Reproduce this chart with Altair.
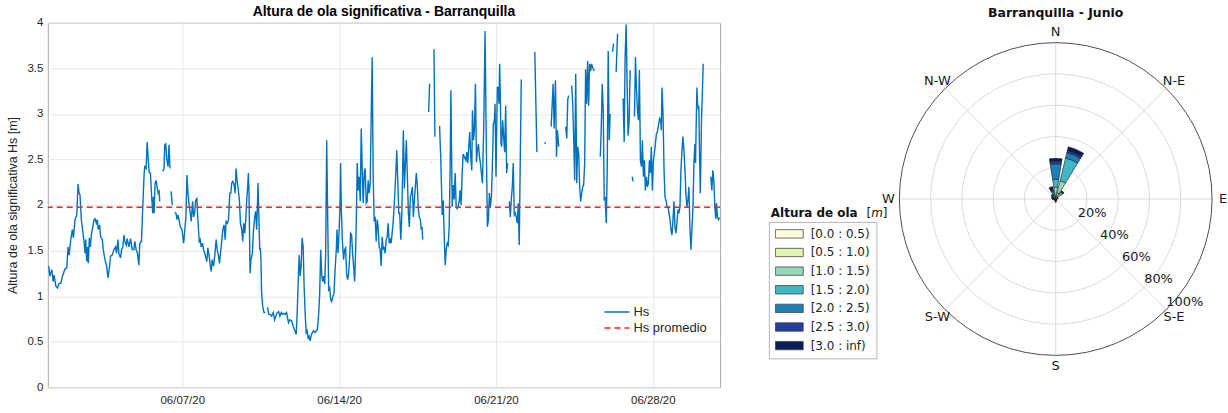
import altair as alt
import numpy as np
import pandas as pd

# ---------------- Serie de Hs (horas desde 2020-06-01 00:00, Hs en m) ----------------
tramos = [
    [(1, 1.33), (2.2, 1.22), (4.3, 1.29), (5.7, 1.16), (6.8, 1.23), (8.6, 1.11), (10.3, 1.09), (12.1, 1.14),
     (13.9, 1.14), (15.7, 1.22), (18.5, 1.30), (20.3, 1.31), (21.7, 1.54), (22.8, 1.45), (24.6, 1.62),
     (26.3, 1.73), (27.4, 1.64), (29.2, 1.84), (31, 1.89), (32.4, 2.23), (33.5, 2.13), (34.5, 2.11),
     (35.9, 1.84), (37.7, 1.69), (38.8, 1.60), (39.9, 1.47), (40.6, 1.62), (41.6, 1.38), (42.7, 1.54),
     (43.4, 1.36), (44.5, 1.64), (45.6, 1.54), (46.6, 1.67), (48, 1.75), (49.5, 1.84), (50.5, 1.85),
     (52, 1.80), (53, 1.84), (54.1, 1.73), (55.5, 1.78), (56.6, 1.65), (58.4, 1.62), (59.4, 1.51),
     (61.2, 1.40), (63, 1.33), (64.4, 1.20), (66.2, 1.33), (67.2, 1.44), (69, 1.45), (70.8, 1.51),
     (72.6, 1.54), (73.6, 1.47), (75.1, 1.62), (76.1, 1.47), (77.9, 1.42), (79, 1.51), (80.4, 1.54),
     (81.5, 1.67), (82.5, 1.60), (84, 1.56), (85, 1.63), (86.8, 1.54), (88.6, 1.63), (90.4, 1.51),
     (92.1, 1.51), (93.2, 1.60), (94.6, 1.51), (96, 1.47), (97.5, 1.34), (98.5, 1.58), (100.3, 1.60),
     (101.7, 1.98), (103.2, 2.35), (103.9, 2.42), (105.3, 2.40), (106.4, 2.69), (107.4, 2.53),
     (108.5, 2.36), (109.9, 2.35), (111, 2.13), (112.4, 1.91), (113.1, 2.09), (113.8, 1.91), (114.9, 2.24),
     (116, 2.27), (117, 2.20), (118.1, 2.13), (119.2, 2.15), (119.9, 2.04)],
    [(123.1, 2.37), (124.5, 2.40), (125.2, 2.66), (126.3, 2.67), (127.3, 2.51), (128.8, 2.42),
     (129.8, 2.66), (130.9, 2.40)],
    [(132, 2.15), (133.4, 2.00)],
    [(135.9, 1.92), (137.3, 1.91), (138.4, 1.84), (139.4, 1.89), (140.9, 1.82), (141.9, 1.76),
     (143.7, 1.73), (145.5, 1.58), (147.9, 1.87), (149, 2.33), (150.1, 2.13), (151.5, 1.98), (152.6, 1.91),
     (153.6, 1.82), (155.1, 2.04), (156.1, 1.87), (157.2, 1.91), (158.3, 2.05), (159.7, 2.07), (160.7, 1.84),
     (162.2, 1.60), (163.2, 1.62), (164.3, 1.54), (165.7, 1.58), (166.8, 1.51), (168.6, 1.45), (170.3, 1.38),
     (171.4, 1.53), (172.8, 1.44), (173.9, 1.34), (175, 1.27), (176, 1.40), (177.5, 1.33), (178.9, 1.45),
     (180.3, 1.62), (181.4, 1.51), (182.8, 1.44), (183.9, 1.36), (184.9, 1.47), (186.3, 1.60), (187.4, 1.73),
     (188.8, 1.78), (189.9, 1.62), (191, 1.82), (192.4, 1.80), (193.5, 1.84), (194.9, 2.13), (196, 2.13),
     (197, 2.24), (198.1, 2.26), (199.5, 2.22), (200.6, 2.13), (201.6, 2.40), (202.7, 2.27), (204.1, 2.16),
     (205.2, 2.05), (206.3, 1.80), (207.7, 1.73), (208.8, 1.60), (209.8, 1.80), (210.9, 1.69), (212, 1.84),
     (213, 2.05), (214.1, 2.20), (214.8, 2.35), (215.5, 2.13), (216.6, 1.25), (217.6, 1.40), (219.1, 1.47),
     (220.1, 1.69), (221.6, 1.87), (222.6, 1.93), (223.7, 1.73), (224.4, 1.95), (225.1, 2.24), (226.2, 1.84),
     (226.9, 1.51), (227.6, 1.53), (228.3, 1.40), (229, 1.03), (230.1, 0.89), (231.5, 0.82), (232.9, 0.82)],
    [(235.4, 0.88), (236.5, 0.80), (237.9, 0.80), (239.7, 0.78), (241.5, 0.82), (242.9, 0.74), (244.3, 0.78),
     (245.7, 0.82), (247.2, 0.83), (248.6, 0.78), (250, 0.82), (251.4, 0.80), (252.8, 0.81), (254.3, 0.80),
     (255.7, 0.82), (256.8, 0.76), (257.8, 0.71), (259.2, 0.74), (261, 0.73), (262.8, 0.67), (264.6, 0.62),
     (266, 0.58), (267.1, 0.82), (268.1, 1.14), (269.2, 1.45), (270.3, 1.22), (271.3, 1.33), (272.4, 1.64),
     (273.5, 1.54), (274.5, 1.11), (275.6, 0.82), (276.7, 0.60), (277.7, 0.62), (278.8, 0.54), (279.9, 0.56),
     (280.9, 0.51), (282.4, 0.58), (283.4, 0.60), (284.8, 0.62), (286.3, 0.60), (287.7, 0.62), (288.7, 0.63),
     (290.2, 0.82), (291.2, 1.03), (292.3, 1.51), (293.4, 1.22), (294.4, 1.16), (295.5, 1.22), (296.6, 1.13),
     (297.6, 1.47), (298.7, 2.71), (299.8, 1.84), (300.8, 1.07), (301.9, 1.09), (303, 0.96), (304, 0.94),
     (305.5, 1.00), (306.5, 1.03), (307.9, 1.33), (309, 1.51), (309.7, 1.73), (310.8, 1.47), (311.9, 1.69),
     (312.9, 1.98), (313.6, 2.46), (314.3, 1.98), (315.4, 1.62), (316.8, 1.40), (317.9, 1.51), (319, 1.53),
     (320, 1.25), (321.1, 1.18), (322.2, 1.25), (323.2, 1.40), (324.3, 1.69), (325.4, 1.67), (326.4, 1.47),
     (327.5, 1.33), (328.6, 1.16), (329.6, 1.47), (330.7, 1.98), (331.4, 2.46), (332.5, 2.16), (333.5, 2.31),
     (334.6, 2.04), (335.7, 2.84), (336.7, 2.40), (337.8, 2.02), (338.9, 2.36), (339.9, 2.40), (341, 2.02),
     (342.1, 2.04), (343.1, 2.27), (344.2, 2.13), (345.3, 2.24), (346.3, 2.93), (347.4, 3.62), (348.5, 2.31),
     (349.6, 1.82), (350.6, 1.87), (351.7, 1.60), (352.8, 1.84), (353.8, 1.76), (354.9, 1.54), (356, 1.51),
     (357, 1.33), (358.1, 1.65), (359.2, 1.51), (360.2, 1.54), (361.3, 1.47), (362.4, 1.62), (363.4, 1.65),
     (364.5, 1.80), (365.6, 1.58), (366.6, 1.62), (367.7, 1.58), (368.8, 1.69), (369.8, 1.80), (370.9, 1.98),
     (372, 2.20), (373, 2.42), (373.7, 2.60), (374.8, 2.27), (375.9, 1.91), (376.9, 1.91), (378, 1.62),
     (379.1, 1.87), (380.1, 2.42), (380.8, 2.82), (381.9, 2.18), (383, 2.46), (384, 2.71), (385.1, 2.31),
     (386.2, 1.91), (387.2, 1.76), (388.3, 2.09), (389.4, 2.13), (390.4, 2.20), (391.5, 1.87), (392.6, 2.05),
     (393.6, 2.20), (394.7, 2.35), (395.8, 2.20), (396.8, 1.96), (397.9, 1.87), (399, 1.84), (400, 1.73),
     (400.8, 1.76), (401.5, 1.62)],
    [(407.9, 3.02), (408.9, 3.33)],
    [(411, 2.47), (411.6, 2.47)],
    [(413.6, 3.71), (414.6, 2.75)],
    [(419.6, 2.87), (421, 2.46), (422.4, 1.89), (423.5, 2.05), (424.6, 1.65), (425.6, 1.34), (426.7, 1.51),
     (427.8, 1.58), (428.8, 1.56), (429.9, 1.76), (431, 2.49), (431.7, 3.26), (433.1, 1.98), (434.2, 2.22),
     (435.2, 2.06), (436.3, 2.35), (437.4, 1.98), (438.4, 1.96), (439.5, 1.98), (440.6, 2.04), (441.6, 2.16),
     (442.7, 2.00), (443.8, 2.35), (444.8, 2.56), (447.7, 2.49), (448.7, 2.58), (449.8, 2.46), (450.9, 2.64),
     (451.9, 2.80), (453, 2.53), (454.1, 2.38), (454.8, 3.04), (455.9, 2.71), (456.9, 2.82), (458, 3.33),
     (459.1, 2.47), (460.1, 2.60), (461.2, 2.67), (462.3, 2.53), (463.3, 2.46), (464.4, 2.35), (465.5, 2.24),
     (466.9, 2.86), (468.3, 3.91), (469.4, 2.86), (470.8, 1.76), (471.9, 1.84), (472.9, 2.13), (474, 1.98),
     (475.1, 2.09), (476.1, 2.42), (477.2, 2.89), (478.3, 2.93), (479, 3.11), (480, 2.31), (480.8, 2.86),
     (481.5, 3.29), (482.5, 3.29), (483.2, 3.11), (483.9, 3.55), (484.7, 3.18), (485.4, 2.67), (486.1, 2.64),
     (487.2, 2.93), (488.2, 2.75), (489.3, 2.58), (490.4, 3.09), (491.4, 2.35), (492.5, 2.46)],
    [(494.3, 2.04), (495.3, 1.87), (496.4, 2.06), (497.5, 2.20), (498.5, 2.46), (499.6, 1.89), (500.7, 1.91),
     (501.7, 1.87), (502.8, 1.80), (503.9, 2.02), (504.9, 1.56), (506, 2.49), (507.1, 3.37), (508.1, 3.37)],
    [(521.6, 3.68), (523.8, 2.58)],
    [(532.3, 2.69), (532.9, 2.67)],
    [(539.1, 2.86), (541.2, 3.33), (542.3, 2.84), (543.7, 3.37), (544.8, 2.53), (545.8, 2.82), (547.2, 2.64)],
    [(554.7, 2.86), (555.8, 2.73), (556.9, 3.16), (557.9, 3.20)],
    [(561.1, 3.31), (562.2, 3.11), (563.2, 2.75), (564.3, 2.27), (565.4, 3.44), (566.5, 2.24), (567.5, 2.64),
     (568.6, 2.56), (569.6, 2.20), (570.7, 2.04), (571.8, 2.13), (572.9, 2.20), (573.9, 2.22), (575, 2.46),
     (576, 3.49), (577.1, 3.11), (578.2, 3.58), (579.2, 3.09), (580.3, 3.55), (581.4, 3.47), (582.4, 3.55),
     (583.5, 3.51), (585.3, 3.47)],
    [(591.7, 2.53), (592.7, 2.82), (593.8, 3.33), (594.9, 3.04), (595.9, 2.05), (597, 2.09), (598.1, 1.80),
     (599.1, 2.35), (600.2, 3.69), (601.3, 2.71), (602.3, 3.00)],
    [(604.8, 3.68), (605.9, 3.77)],
    [(608.7, 3.46), (610.2, 3.88)],
    [(616.2, 3.17), (617.3, 2.69), (618.3, 3.62), (619.4, 3.98), (620.5, 3.29), (621.5, 2.76), (622.6, 2.93),
     (623.7, 3.48)],
    [(625.8, 2.31), (626.9, 2.26)],
    [(628.3, 2.97), (629.4, 3.62), (630.4, 3.29), (631.5, 3.04), (632.6, 2.93), (633.6, 3.48), (634.7, 2.49),
     (635.8, 2.42), (636.8, 2.71), (637.9, 2.31), (639, 2.49), (640, 2.16), (641.1, 2.31), (642.2, 2.20),
     (643.2, 2.24), (644.3, 2.49), (645.4, 2.35), (646.4, 2.64), (647.5, 2.16), (648.6, 2.49), (649.6, 2.56),
     (650.7, 2.67), (651.8, 2.78), (652.8, 2.80), (655.3, 2.95), (656.4, 2.93), (657.1, 2.82), (657.8, 3.29),
     (658.9, 3.00), (660, 2.38), (661, 2.09), (662.1, 2.05), (663.2, 1.98), (664.2, 1.98), (665.3, 1.91),
     (666.4, 1.84), (667.4, 1.73), (668.5, 1.67), (669.6, 1.84), (670.6, 2.04), (671.7, 1.76), (672.8, 1.69),
     (673.8, 1.80), (674.9, 1.95), (676, 1.91), (677, 1.98), (678.1, 2.38), (679.2, 2.60), (680.2, 2.75),
     (681.3, 2.60), (682.4, 2.38), (683.4, 2.13), (684.5, 1.98), (685.6, 2.05), (686.6, 2.20), (687.7, 1.76),
     (688.8, 1.51), (689.8, 1.73), (690.9, 1.95), (692, 2.46), (693, 2.67), (693.7, 2.46), (694.4, 2.86),
     (695.2, 3.29), (695.9, 3.11), (696.6, 3.06), (697.3, 3.07), (698, 2.57), (698.8, 2.13), (699.4, 2.46),
     (700.1, 2.93), (701.2, 3.29), (701.9, 3.55)],
    [(710.1, 2.31), (711.2, 2.16), (712.2, 2.38), (713.3, 2.27), (714.4, 1.98), (715.4, 1.85), (716.1, 2.02),
     (717.2, 1.87), (718.3, 1.84), (719.5, 1.86)],
]
hs_promedio = 1.975
y_ticks = [0, 0.5, 1, 1.5, 2, 2.5, 3, 3.5, 4]
x_tick_dias = [7, 14, 21, 28]

# ---------------- Rosa de oleaje (porcentaje por sector y rango) ----------------
sectores = ["N", "NNE", "NE", "ENE", "E", "ESE", "SE", "SSE",
            "S", "SSW", "SW", "WSW", "W", "WNW", "NW", "NNW"]
rangos = ["[0.0 : 0.5)", "[0.5 : 1.0)", "[1.0 : 1.5)", "[1.5 : 2.0)",
          "[2.0 : 2.5)", "[2.5 : 3.0)", "[3.0 : inf)"]
colores = ["#ffffd9", "#e2f4b2", "#97d6b9", "#41b6c4", "#1e80b8", "#243f9a", "#081d58"]
f_00_05 = [0.5, 1.5, 0.5, 0.3, 0.3, 0.2, 0.3, 0.3, 0.5, 0.3, 0.3, 0.2, 0.3, 0.3, 0.3, 0.3]
f_05_10 = [1.5, 2.5, 1.0, 0.5, 0.3, 0.2, 0.3, 0.4, 0.6, 0.4, 0.3, 0.3, 0.3, 0.3, 0.4, 0.5]
f_10_15 = [5.6, 8.0, 2.5, 0.5, 0.2, 0.2, 0.2, 0.3, 0.5, 0.3, 0.2, 0.2, 0.3, 0.4, 0.5, 1.0]
f_15_20 = [5.1, 15.0, 1.5, 0.2, 0.1, 0.1, 0.1, 0.2, 0.3, 0.2, 0.1, 0.1, 0.3, 0.4, 0.6, 1.5]
f_20_25 = [9.9, 3.5, 0.5, 0.1, 0.0, 0.0, 0.0, 0.0, 0.2, 0.1, 0.1, 0.1, 0.4, 0.5, 0.8, 2.0]
f_25_30 = [1.6, 1.3, 0.2, 0.0, 0.0, 0.0, 0.0, 0.0, 0.0, 0.0, 0.0, 0.0, 0.3, 0.4, 0.5, 1.0]
f_30_inf = [1.8, 2.5, 0.3, 0.0, 0.0, 0.0, 0.0, 0.0, 0.0, 0.0, 0.0, 0.0, 0.3, 0.5, 0.6, 2.0]
frecuencias = [f_00_05, f_05_10, f_10_15, f_15_20, f_20_25, f_25_30, f_30_inf]
dir_lab = ["N", "N-E", "E", "S-E", "S", "S-W", "W", "N-W"]
dir_ang = [0, 45, 90, 135, 180, 225, 270, 315]
anillos = [20, 40, 60, 80]
anillo_lab = ["20%", "40%", "60%", "80%", "100%"]
anillo_val = [20, 40, 60, 80, 100]

# ---------------- Panel izquierdo ----------------
rows = []
for k, tr in enumerate(tramos):
    for h, v in tr:
        rows.append({"h": h, "hs": v, "tramo": k})
df = pd.DataFrame(rows)
df["fecha"] = (pd.Timestamp("2020-06-01") + pd.to_timedelta(df["h"], unit="h")).dt.strftime("%Y-%m-%dT%H:%M:%S")
df["serie"] = "Hs"
mean_df = pd.DataFrame({"v": [hs_promedio], "serie": ["Hs promedio"]})

FONT_L = "Liberation Sans"
TXT = "#262626"
color_sc = alt.Scale(domain=["Hs", "Hs promedio"], range=["#0072BD", "#FF1F1F"])
dash_sc = alt.Scale(domain=["Hs", "Hs promedio"], range=[[1, 0], [6, 4]])
leg_l = alt.Legend(title=None, orient="none", legendX=558, legendY=284, symbolType="stroke",
                   symbolSize=625, symbolStrokeWidth=1.5, labelFont=FONT_L, labelFontSize=13,
                   labelColor=TXT, labelOffset=3, padding=0, rowPadding=2, clipHeight=13)
ys_l = alt.Scale(domain=[0, 4], nice=False, zero=True)
xs_l = alt.Scale(domain=[alt.DateTime(year=2020, month=6, date=1),
                         alt.DateTime(year=2020, month=7, date=1)])
x_axis = alt.Axis(values=[alt.DateTime(year=2020, month=6, date=d) for d in x_tick_dias],
                  format="%m/%d/%y", labelFont=FONT_L, labelFontSize=11.5, labelColor=TXT,
                  labelPadding=7, ticks=False, domain=False, grid=True, gridColor="#e6e6e6",
                  title=None)
y_axis = alt.Axis(values=y_ticks, format="~g", labelFont=FONT_L, labelFontSize=11.5, labelColor=TXT,
                  labelPadding=5, ticks=False, domain=False, grid=True, gridColor="#e6e6e6",
                  title="Altura de ola significativa Hs [m]", titleFont=FONT_L, titleFontSize=12.5,
                  titleFontWeight="normal", titleColor=TXT, titlePadding=7)

linea = alt.Chart(df).mark_line(strokeWidth=1.4).encode(
    x=alt.X("fecha:T", scale=xs_l, axis=x_axis),
    y=alt.Y("hs:Q", scale=ys_l, axis=y_axis),
    detail="tramo:N",
    color=alt.Color("serie:N", scale=color_sc, legend=leg_l),
    strokeDash=alt.StrokeDash("serie:N", scale=dash_sc, legend=leg_l),
)
media = alt.Chart(mean_df).mark_rule(strokeWidth=1.4).encode(
    y=alt.Y("v:Q", scale=ys_l),
    color=alt.Color("serie:N", scale=color_sc, legend=leg_l),
    strokeDash=alt.StrokeDash("serie:N", scale=dash_sc, legend=leg_l),
)
izq = alt.layer(linea, media).properties(
    width=675, height=366,
    title=alt.Title("Altura de ola significativa - Barranquilla", font=FONT_L, fontSize=14,
                    fontWeight="bold", color="#000000", offset=-2.5, anchor="middle"),
    view=alt.ViewBackground(stroke="#a8a8a8", strokeWidth=1),
)

# ---------------- Panel derecho (rosa) ----------------
FONT_R = "DejaVu Sans"
PX = 1.57          # pixeles por punto porcentual
W2, H2 = 486, 366
CX, CY = 314, 177  # centro de la rosa dentro del panel
xs = alt.Scale(domain=[-CX / PX, (W2 - CX) / PX], nice=False, zero=False)
ys = alt.Scale(domain=[-(H2 - CY) / PX, CY / PX], nice=False, zero=False)
ts = alt.Scale(domain=[0, 360], range=[0, 2 * np.pi])
rs = alt.Scale(type="linear", domain=[0, 100], range=[0, 100 * PX], nice=False)

rad = np.deg2rad(np.array(dir_ang, dtype=float))
radios_df = pd.DataFrame({"x0": 0.0, "y0": 0.0, "x1": 100 * np.sin(rad), "y1": 100 * np.cos(rad)})
anillos_df = pd.DataFrame({"r": anillos, "cx": 0.0, "cy": 0.0, "t0": 0.0, "t1": 360.0})
borde_df = pd.DataFrame({"r": [100], "cx": [0.0], "cy": [0.0], "t0": [0.0], "t1": [360.0]})

barras = []
for i, s in enumerate(sectores):
    c = 22.5 * i
    acum = 0.0
    for j, rg in enumerate(rangos):
        v = frecuencias[j][i]
        if v > 0:
            barras.append({"sector": s, "rango": rg, "t0": c - 9, "t1": c + 9,
                           "r0": acum, "r1": acum + v, "cx": 0.0, "cy": 0.0})
        acum += v
barras_df = pd.DataFrame(barras)

dir_df = pd.DataFrame({"lab": dir_lab, "x": 107 * np.sin(rad), "y": 107 * np.cos(rad)})
anl_df = pd.DataFrame({"lab": anillo_lab,
                       "x": np.array(anillo_val) * np.sin(np.deg2rad(135)),
                       "y": np.array(anillo_val) * np.cos(np.deg2rad(135))})

X0 = alt.X("x0:Q", scale=xs, axis=None)
radios = alt.Chart(radios_df).mark_rule(color="#d2d2d2", strokeWidth=0.8).encode(
    x=X0, y=alt.Y("y0:Q", scale=ys, axis=None), x2="x1:Q", y2="y1:Q")

def circulo(data, color, width):
    return alt.Chart(data).mark_arc(fillOpacity=0, stroke=color, strokeWidth=width).encode(
        x=alt.X("cx:Q", scale=xs, axis=None), y=alt.Y("cy:Q", scale=ys, axis=None),
        theta=alt.Theta("t0:Q", scale=ts, stack=False), theta2="t1:Q",
        radius=alt.Radius("r:Q", scale=rs, stack=False))

anillos_ch = circulo(anillos_df, "#d2d2d2", 0.8)
borde_ch = circulo(borde_df, "#3a3a3a", 0.9)

# la leyenda se coloca respecto del origen del primer panel
leg_r = alt.Legend(title=None, orient="none", legendX=724, legendY=200,
                   symbolType="M-1,-0.3L1,-0.3L1,0.3L-1,0.3Z", symbolSize=784,
                   symbolStrokeColor="#444444", symbolStrokeWidth=0.8,
                   labelFont=FONT_R, labelFontSize=12, labelColor="#222222", labelOffset=7,
                   rowPadding=6.7, padding=6, strokeColor="#b4b4b4", fillColor="#ffffff",
                   clipHeight=12)
barras_ch = alt.Chart(barras_df).mark_arc(stroke="#1a1a1a", strokeWidth=0.6).encode(
    x=alt.X("cx:Q", scale=xs, axis=None), y=alt.Y("cy:Q", scale=ys, axis=None),
    theta=alt.Theta("t0:Q", scale=ts, stack=False), theta2="t1:Q",
    radius=alt.Radius("r1:Q", scale=rs, stack=False), radius2="r0:Q",
    fill=alt.Fill("rango:N", scale=alt.Scale(domain=rangos, range=colores), legend=leg_r),
)
dir_ch = alt.Chart(dir_df).mark_text(font=FONT_R, fontSize=13, color="#1a1a1a").encode(
    x=alt.X("x:Q", scale=xs, axis=None), y=alt.Y("y:Q", scale=ys, axis=None), text="lab:N")
anl_ch = alt.Chart(anl_df).mark_text(font=FONT_R, fontSize=13, color="#1a1a1a", align="left",
                                     baseline="middle", dy=-8).encode(
    x=alt.X("x:Q", scale=xs, axis=None), y=alt.Y("y:Q", scale=ys, axis=None), text="lab:N")

tit_df = pd.DataFrame({"t": ["Altura de ola"]})
tit1 = alt.Chart(tit_df).mark_text(font=FONT_R, fontSize=12, fontWeight="bold", color="#111111",
                                   align="left", baseline="middle").encode(
    x=alt.value(28), y=alt.value(191), text="t:N")
tit2 = alt.Chart(pd.DataFrame({"t": ["["]})).mark_text(font=FONT_R, fontSize=12, color="#111111",
                                                       align="left", baseline="middle").encode(
    x=alt.value(124), y=alt.value(191), text="t:N")
tit3 = alt.Chart(pd.DataFrame({"t": ["m"]})).mark_text(font=FONT_R, fontSize=12, fontStyle="italic",
                                                       color="#111111", align="left",
                                                       baseline="middle").encode(
    x=alt.value(128.7), y=alt.value(191), text="t:N")
tit4 = alt.Chart(pd.DataFrame({"t": ["]"]})).mark_text(font=FONT_R, fontSize=12, color="#111111",
                                                       align="left", baseline="middle").encode(
    x=alt.value(140.4), y=alt.value(191), text="t:N")

der = alt.layer(radios, anillos_ch, borde_ch, barras_ch, dir_ch, anl_ch, tit1, tit2, tit3, tit4).properties(
    width=W2, height=H2,
    title=alt.Title("Barranquilla - Junio", font=FONT_R, fontSize=12.5, fontWeight="bold",
                    color="#111111", offset=3, anchor="middle", dx=71),
    view=alt.ViewBackground(strokeWidth=0),
)

chart = alt.hconcat(izq, der, spacing=20).properties(
    padding={"left": 6, "top": 4, "right": 0, "bottom": 0},
    background="#ffffff",
).resolve_scale(color="independent", strokeDash="independent")

chart.save("out.html", embed_options={"renderer": "svg", "actions": False})
